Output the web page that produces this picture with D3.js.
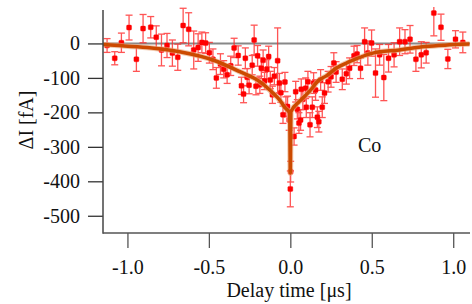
<!DOCTYPE html>
<html>
<head>
<meta charset="utf-8">
<script src="https://cdn.jsdelivr.net/npm/d3@7"></script>
<style>
  html, body { margin: 0; padding: 0; background: #fff; }
  svg text { font-family: "Liberation Serif", "Times New Roman", serif; fill: #111; }
</style>
</head>
<body>
<svg id="chart" width="472" height="304"></svg>
<script>
// measured points: delay time [us], current change [fA], error [fA]
const delayT = [-1.125,-1.078,-1.037,-0.990,-0.945,-0.904,-0.857,-0.823,-0.791,-0.757,-0.724,-0.691,-0.658,-0.624,-0.593,-0.566,-0.543,-0.520,-0.497,-0.475,-0.454,-0.429,-0.409,-0.388,-0.366,-0.345,-0.320,-0.300,-0.287,-0.276,-0.265,-0.253,-0.234,-0.222,-0.211,-0.201,-0.187,-0.178,-0.167,-0.158,-0.144,-0.133,-0.123,-0.110,-0.098,-0.078,-0.067,-0.058,-0.045,-0.033,-0.027,-0.017,-0.007,0.000,0.002,0.023,0.033,0.043,0.053,0.063,0.067,0.077,0.094,0.098,0.108,0.121,0.135,0.143,0.155,0.166,0.175,0.186,0.196,0.210,0.232,0.250,0.267,0.281,0.319,0.344,0.364,0.391,0.410,0.431,0.456,0.476,0.499,0.523,0.548,0.574,0.603,0.637,0.671,0.704,0.735,0.771,0.804,0.834,0.881,0.925,0.967,1.014,1.059];
const deltaI = [-6,-43,2,46,-46,43,47,18,-19,-6,-28,-40,52,41,-19,-12,3,1,-27,-46,-100,-60,-75,-91,-65,-13,-35,-123,-147,-43,-98,-121,-63,10,-124,-36,-120,-72,-49,-109,-75,-38,-106,-149,-95,-50,-115,-143,-207,-112,-183,-183,-222,-422,-372,-270,-140,-191,-231,-222,-133,-162,-130,-185,-111,-236,-185,-115,-135,-214,-227,-106,-185,-144,-111,-97,-57,-83,-104,-88,-72,-36,-31,-72,5,-28,1,-86,-33,-99,-43,-33,5,5,12,-46,-33,-27,88,47,-45,12,3];
const errI = [20,19,28,36,35,41,31,33,46,35,38,38,50,48,55,40,30,30,30,30,30,30,25,25,28,28,28,25,25,30,25,25,28,43,25,30,25,30,30,25,28,30,25,25,25,95,28,28,25,28,28,30,30,52,30,25,30,28,30,30,30,30,30,30,30,35,30,30,30,30,30,30,30,30,30,30,30,30,30,30,30,28,25,30,40,35,38,70,30,67,40,35,40,35,40,35,38,30,66,38,28,25,30];

// fitted curve
const fitT = [-1.15,-1.125,-0.88,-0.68,-0.475,-0.31,-0.188,-0.107,-0.066,-0.03,-0.004,0.0,0.004,0.055,0.116,0.177,0.221,0.28,0.363,0.507,0.67,0.83,0.95,1.1];
const fitI = [-3,-4,-12,-24,-48,-82,-111,-144,-164,-188,-202,-376,-198,-169,-140,-106,-94,-72,-53,-28,-19,-9,-5,-2];

const xTicks = [-1.0,-0.5,0.0,0.5,1.0];
const yTicks = [0,-100,-200,-300,-400,-500];

const svg = d3.select('#chart');
const plotLeft = 103, plotRight = 470, plotTop = 10, plotBottom = 233;
const serif = '"Liberation Serif", "Times New Roman", serif';

const x = d3.scaleLinear().domain([-1.15, 1.1]).range([plotLeft, plotRight - 0.5]);
const y = d3.scaleLinear().domain([-550, 97]).range([plotBottom, plotTop]);

svg.append('defs').append('clipPath').attr('id', 'plotClip')
  .append('rect').attr('x', plotLeft).attr('y', 7).attr('width', 472 - plotLeft).attr('height', plotBottom - 7);

// zero line
svg.append('line')
  .attr('x1', plotLeft).attr('x2', plotRight)
  .attr('y1', y(0)).attr('y2', y(0))
  .style('stroke', '#888').style('stroke-width', 2);

const plot = svg.append('g').attr('clip-path', 'url(#plotClip)');

const pts = delayT.map((t, i) => ({ t: t, v: deltaI[i], e: errI[i] }));

// error bars
const eb = plot.append('g')
  .style('stroke', '#ff2a2a').style('stroke-width', 1.3).style('opacity', 0.8);
pts.forEach(d => {
  const cx = x(d.t), y1 = y(d.v + d.e), y2 = y(d.v - d.e);
  eb.append('line').attr('x1', cx).attr('x2', cx).attr('y1', y1).attr('y2', y2);
  eb.append('line').attr('x1', cx - 3.5).attr('x2', cx + 3.5).attr('y1', y1).attr('y2', y1);
  eb.append('line').attr('x1', cx - 3.5).attr('x2', cx + 3.5).attr('y1', y2).attr('y2', y2);
});

// markers
plot.append('g').selectAll('rect')
  .data(pts)
  .enter()
  .append('rect')
  .attr('x', d => x(d.t) - 2.5)
  .attr('y', d => y(d.v) - 2.5)
  .attr('width', 5).attr('height', 5).attr('rx', 1)
  .style('fill', '#ff0000')
  .style('stroke', 'rgba(255,0,0,0.35)').style('stroke-width', 1);

// fit line
const fitLine = d3.line()
  .x((d, i) => x(fitT[i]))
  .y(d => y(d))
  .curve(d3.curveMonotoneX);

plot.append('path')
  .attr('d', fitLine(fitI))
  .style('fill', 'none')
  .style('stroke', '#e9a77c')
  .style('stroke-width', 5.5)
  .style('opacity', 0.6);
plot.append('path')
  .attr('d', fitLine(fitI))
  .style('fill', 'none')
  .style('stroke', '#cc4a00')
  .style('stroke-width', 3.5)
  .style('stroke-linejoin', 'round');

// axes (plain hyphen minus like the original)
const fmtY = d => String(d);
const fmtX = d => d.toFixed(1);

const yAxis = svg.append('g')
  .attr('transform', `translate(${plotLeft},0)`)
  .attr('font-family', serif).attr('font-size', 20)
  .call(d3.axisLeft(y).tickValues(yTicks).tickSize(15).tickPadding(8).tickFormat(fmtY));
yAxis.select('.domain').remove();
yAxis.selectAll('line').style('stroke', '#333').style('stroke-width', 1.3);
yAxis.selectAll('text').style('font-family', serif).style('font-size', '20px').style('fill', '#111');

const xAxis = svg.append('g')
  .attr('transform', `translate(0,${plotBottom})`)
  .attr('font-family', serif).attr('font-size', 20)
  .call(d3.axisBottom(x).tickValues(xTicks).tickSize(15).tickPadding(12).tickFormat(fmtX));
xAxis.select('.domain').remove();
xAxis.selectAll('line').style('stroke', '#555').style('stroke-width', 1.3);
xAxis.selectAll('text').style('font-family', serif).style('font-size', '20px').style('fill', '#111');

svg.append('line')
  .attr('x1', plotLeft).attr('x2', plotLeft).attr('y1', plotTop).attr('y2', plotBottom + 0.7)
  .style('stroke', '#444').style('stroke-width', 1.5);
svg.append('line')
  .attr('x1', plotLeft).attr('x2', plotRight).attr('y1', plotBottom).attr('y2', plotBottom)
  .style('stroke', '#555').style('stroke-width', 1.5);

// labels
svg.append('text')
  .attr('x', 289).attr('y', 297)
  .attr('text-anchor', 'middle')
  .style('font-size', '20px')
  .text('Delay time [μs]');

svg.append('text')
  .attr('transform', 'translate(33,120) rotate(-90)')
  .attr('text-anchor', 'middle')
  .style('font-size', '20px')
  .text('ΔI [fA]');

svg.append('text')
  .attr('x', 358).attr('y', 152)
  .style('font-size', '20px')
  .text('Co');
</script>
</body>
</html>
